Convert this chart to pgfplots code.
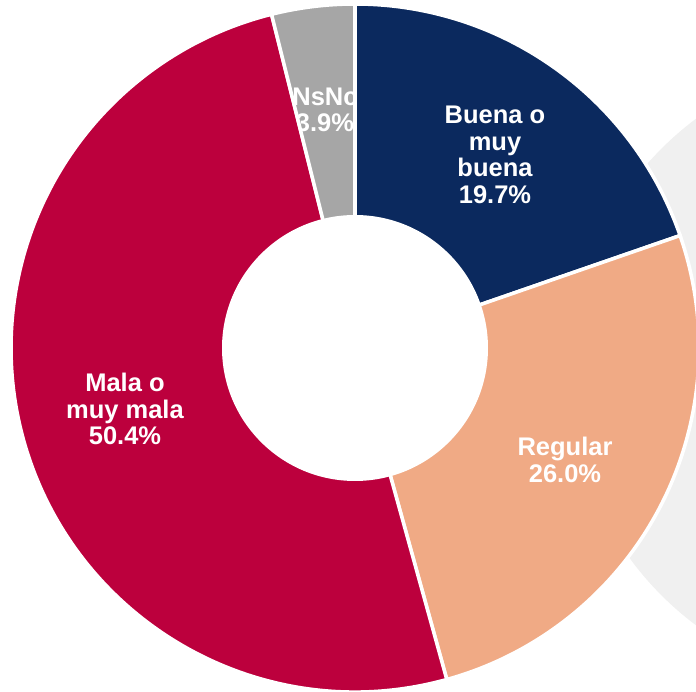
\documentclass[border=0pt]{standalone}
\usepackage{pgfplots}
\pgfplotsset{compat=1.18}
\usepackage{fontspec}
\setmainfont{Liberation Sans}
\definecolor{cBuena}{HTML}{0B295E}
\definecolor{cReg}{HTML}{F0AA85}
\definecolor{cMala}{HTML}{BC003D}
\definecolor{cNs}{HTML}{A6A6A6}
\definecolor{cBg}{HTML}{F0F0F0}
\begin{document}
\begin{tikzpicture}
% data (percent)
\def\vA{19.7}\def\vB{26.0}\def\vC{50.4}\def\vD{3.9}
\def\ro{6.88}\def\ri{2.66}
\pgfmathsetmacro\aA{90}
\pgfmathsetmacro\aB{\aA-3.6*\vA}
\pgfmathsetmacro\aC{\aB-3.6*\vB}
\pgfmathsetmacro\aD{\aC-3.6*\vC}
\pgfmathsetmacro\aE{\aD-3.6*\vD}
\begin{axis}[hide axis, scale only axis, x=1cm, y=1cm,
  xmin=-7.1, xmax=6.82, ymin=-6.88, ymax=6.96, clip=true]
\fill[cBg] (axis cs:10.6,-0.48) circle[radius=6.32];
\filldraw[cBuena, draw=white, line width=2pt] (axis cs:0,0) -- (axis cs:{\ro*cos(\aA)},{\ro*sin(\aA)}) arc[start angle=\aA, end angle=\aB, radius=\ro] -- cycle;
\filldraw[cReg, draw=white, line width=2pt] (axis cs:0,0) -- (axis cs:{\ro*cos(\aB)},{\ro*sin(\aB)}) arc[start angle=\aB, end angle=\aC, radius=\ro] -- cycle;
\filldraw[cMala, draw=white, line width=2pt] (axis cs:0,0) -- (axis cs:{\ro*cos(\aC)},{\ro*sin(\aC)}) arc[start angle=\aC, end angle=\aD, radius=\ro] -- cycle;
\filldraw[cNs, draw=white, line width=2pt] (axis cs:0,0) -- (axis cs:{\ro*cos(\aD)},{\ro*sin(\aD)}) arc[start angle=\aD, end angle=\aE, radius=\ro] -- cycle;
\fill[white] (axis cs:0,0) circle[radius=\ri];
\tikzset{lab/.style={text=white, font=\bfseries\fontsize{14.5}{15.2}\selectfont, align=center, inner sep=0pt}}
\node[lab] at (axis cs:2.8,3.86) {Buena o\\muy\\buena\\19.7\%};
\node[lab] at (axis cs:4.2,-2.24) {Regular\\26.0\%};
\node[lab] at (axis cs:-4.6,-1.22) {Mala o\\muy mala\\50.4\%};
\begin{scope}
\clip (axis cs:0,0) -- (axis cs:{(\ro-0.05)*cos(\aD+0.4)},{(\ro-0.05)*sin(\aD+0.4)}) arc[start angle=\aD+0.4, end angle=\aE-0.4, radius=\ro-0.05] -- cycle;
\node[lab] at (axis cs:-0.6,4.76) {NsNc\\3.9\%};
\end{scope}
\end{axis}
\pgfresetboundingbox
\useasboundingbox (current axis.south west) rectangle (current axis.north east);
\end{tikzpicture}
\end{document}
